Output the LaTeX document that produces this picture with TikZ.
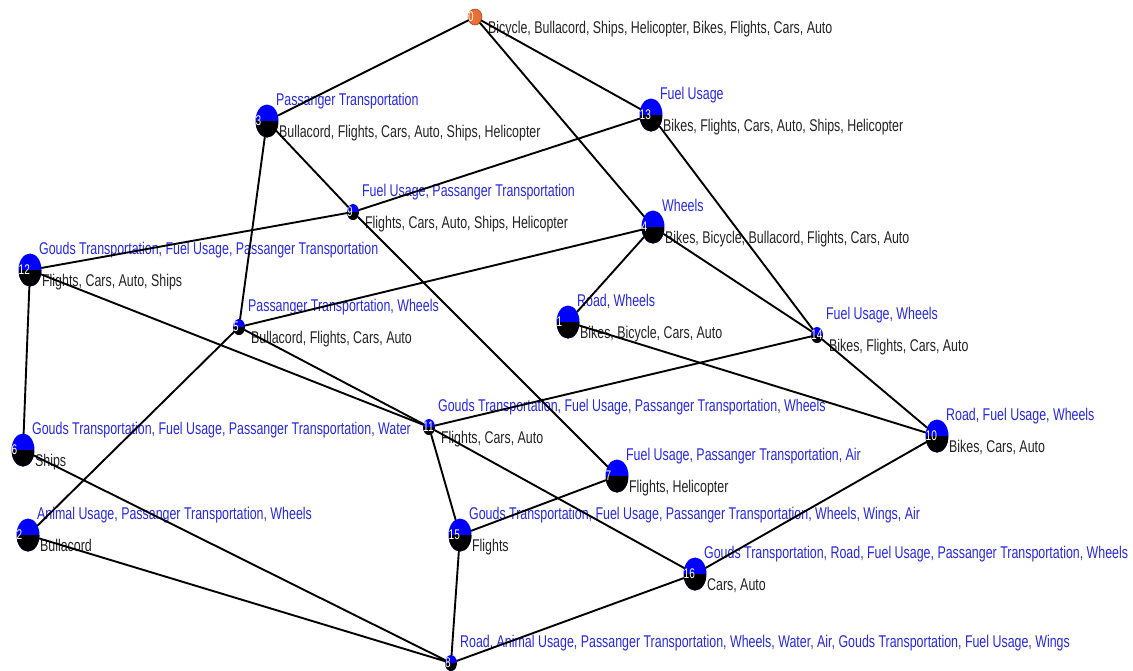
\documentclass[tikz,border=0pt]{standalone}
\usepackage{fontspec}
\setmainfont{Liberation Sans}
\usetikzlibrary{shapes.geometric}
\definecolor{intentblue}{RGB}{40,40,225}
\definecolor{extentgray}{RGB}{35,35,35}
\definecolor{topfill}{RGB}{232,112,52}
\definecolor{topdraw}{RGB}{160,70,30}

\begin{document}
\begin{tikzpicture}[x=1pt, y=-1pt, line cap=round,
	concept/.style={ellipse, inner sep=0pt, minimum width=23pt, minimum height=33pt, fill=blue,
		path picture={\fill[black] (path picture bounding box.west) rectangle (path picture bounding box.south east);}},
	smallconcept/.style={concept, minimum width=12pt, minimum height=16pt},
	num/.style={text=white, inner sep=0.4pt, anchor=west, xscale=0.72, font=\fontsize{14}{14}\selectfont},
	intent/.style={text=intentblue, anchor=base west, inner sep=0pt, xscale=0.73, font=\fontsize{17}{17}\selectfont},
	extent/.style={intent, text=extentgray},
	link/.style={line width=1.9pt}]
	\useasboundingbox (0,0) rectangle (1133,670);
	% top concept
	\node[ellipse, inner sep=0pt, minimum width=14pt, minimum height=16pt, fill=topfill, draw=topdraw, line width=0.6pt, label={[num]west:0}] (c0) at (475,17) {};
	\node[extent] (c0e) at ([shift={(13,16)}]c0) {Bicycle, Bullacord, Ships, Helicopter, Bikes, Flights, Cars, Auto};
	% concepts
	\node[concept, label={[num]west:3}] (c3) at (267,121) {};
	\node[intent] (c3i) at ([shift={(9,-16)}]c3) {Passanger Transportation};
	\node[extent] (c3e) at ([shift={(12,16)}]c3) {Bullacord, Flights, Cars, Auto, Ships, Helicopter};
	\node[concept, label={[num]west:13}] (c13) at (651,115) {};
	\node[intent] (c13i) at ([shift={(9,-16)}]c13) {Fuel Usage};
	\node[extent] (c13e) at ([shift={(12,16)}]c13) {Bikes, Flights, Cars, Auto, Ships, Helicopter};
	\node[smallconcept, label={[num]west:9}] (c9) at (353,212) {};
	\node[intent] (c9i) at ([shift={(9,-16)}]c9) {Fuel Usage, Passanger Transportation};
	\node[extent] (c9e) at ([shift={(12,16)}]c9) {Flights, Cars, Auto, Ships, Helicopter};
	\node[concept, label={[num]west:4}] (c4) at (653,227) {};
	\node[intent] (c4i) at ([shift={(9,-16)}]c4) {Wheels};
	\node[extent] (c4e) at ([shift={(12,16)}]c4) {Bikes, Bicycle, Bullacord, Flights, Cars, Auto};
	\node[concept, label={[num]west:12}] (c12) at (30,270) {};
	\node[intent] (c12i) at ([shift={(9,-16)}]c12) {Gouds Transportation, Fuel Usage, Passanger Transportation};
	\node[extent] (c12e) at ([shift={(12,16)}]c12) {Flights, Cars, Auto, Ships};
	\node[smallconcept, label={[num]west:5}] (c5) at (239,327) {};
	\node[intent] (c5i) at ([shift={(9,-16)}]c5) {Passanger Transportation, Wheels};
	\node[extent] (c5e) at ([shift={(12,16)}]c5) {Bullacord, Flights, Cars, Auto};
	\node[concept, label={[num]west:1}] (c1) at (568,322) {};
	\node[intent] (c1i) at ([shift={(9,-16)}]c1) {Road, Wheels};
	\node[extent] (c1e) at ([shift={(12,16)}]c1) {Bikes, Bicycle, Cars, Auto};
	\node[smallconcept, label={[num]west:14}] (c14) at (817,335) {};
	\node[intent] (c14i) at ([shift={(9,-16)}]c14) {Fuel Usage, Wheels};
	\node[extent] (c14e) at ([shift={(12,16)}]c14) {Bikes, Flights, Cars, Auto};
	\node[smallconcept, label={[num]west:11}] (c11) at (429,427) {};
	\node[intent] (c11i) at ([shift={(9,-16)}]c11) {Gouds Transportation, Fuel Usage, Passanger Transportation, Wheels};
	\node[extent] (c11e) at ([shift={(12,16)}]c11) {Flights, Cars, Auto};
	\node[concept, label={[num]west:10}] (c10) at (937,436) {};
	\node[intent] (c10i) at ([shift={(9,-16)}]c10) {Road, Fuel Usage, Wheels};
	\node[extent] (c10e) at ([shift={(12,16)}]c10) {Bikes, Cars, Auto};
	\node[concept, label={[num]west:6}] (c6) at (23,450) {};
	\node[intent] (c6i) at ([shift={(9,-16)}]c6) {Gouds Transportation, Fuel Usage, Passanger Transportation, Water};
	\node[extent] (c6e) at ([shift={(12,16)}]c6) {Ships};
	\node[concept, label={[num]west:7}] (c7) at (617,476) {};
	\node[intent] (c7i) at ([shift={(9,-16)}]c7) {Fuel Usage, Passanger Transportation, Air};
	\node[extent] (c7e) at ([shift={(12,16)}]c7) {Flights, Helicopter};
	\node[concept, label={[num]west:2}] (c2) at (28,535) {};
	\node[intent] (c2i) at ([shift={(9,-16)}]c2) {Animal Usage, Passanger Transportation, Wheels};
	\node[extent] (c2e) at ([shift={(12,16)}]c2) {Bullacord};
	\node[concept, label={[num]west:15}] (c15) at (460,535) {};
	\node[intent] (c15i) at ([shift={(9,-16)}]c15) {Gouds Transportation, Fuel Usage, Passanger Transportation, Wheels, Wings, Air};
	\node[extent] (c15e) at ([shift={(12,16)}]c15) {Flights};
	\node[concept, label={[num]west:16}] (c16) at (695,574) {};
	\node[intent] (c16i) at ([shift={(9,-16)}]c16) {Gouds Transportation, Road, Fuel Usage, Passanger Transportation, Wheels};
	\node[extent] (c16e) at ([shift={(12,16)}]c16) {Cars, Auto};
	% bottom concept
	\node[smallconcept, label={[num]west:8}] (c8) at (451,663) {};
	\node[intent] (c8i) at ([shift={(9,-16)}]c8) {Road, Animal Usage, Passanger Transportation, Wheels, Water, Air, Gouds Transportation, Fuel Usage, Wings};
	% edges
	\draw[link] (c0) -- (c3)  (c0) -- (c13)  (c0) -- (c4);
	\draw[link] (c3) -- (c9)  (c3) -- (c5);
	\draw[link] (c13) -- (c9)  (c13) -- (c14);
	\draw[link] (c9) -- (c12)  (c9) -- (c7);
	\draw[link] (c4) -- (c5)  (c4) -- (c1)  (c4) -- (c14);
	\draw[link] (c12) -- (c6)  (c12) -- (c11);
	\draw[link] (c5) -- (c11)  (c5) -- (c2);
	\draw[link] (c1) -- (c10);
	\draw[link] (c14) -- (c11)  (c14) -- (c10);
	\draw[link] (c11) -- (c15)  (c11) -- (c16);
	\draw[link] (c6) -- (c8)  (c2) -- (c8);
	\draw[link] (c15) -- (c7)  (c15) -- (c8);
	\draw[link] (c16) -- (c10)  (c16) -- (c8);
\end{tikzpicture}
\end{document}
